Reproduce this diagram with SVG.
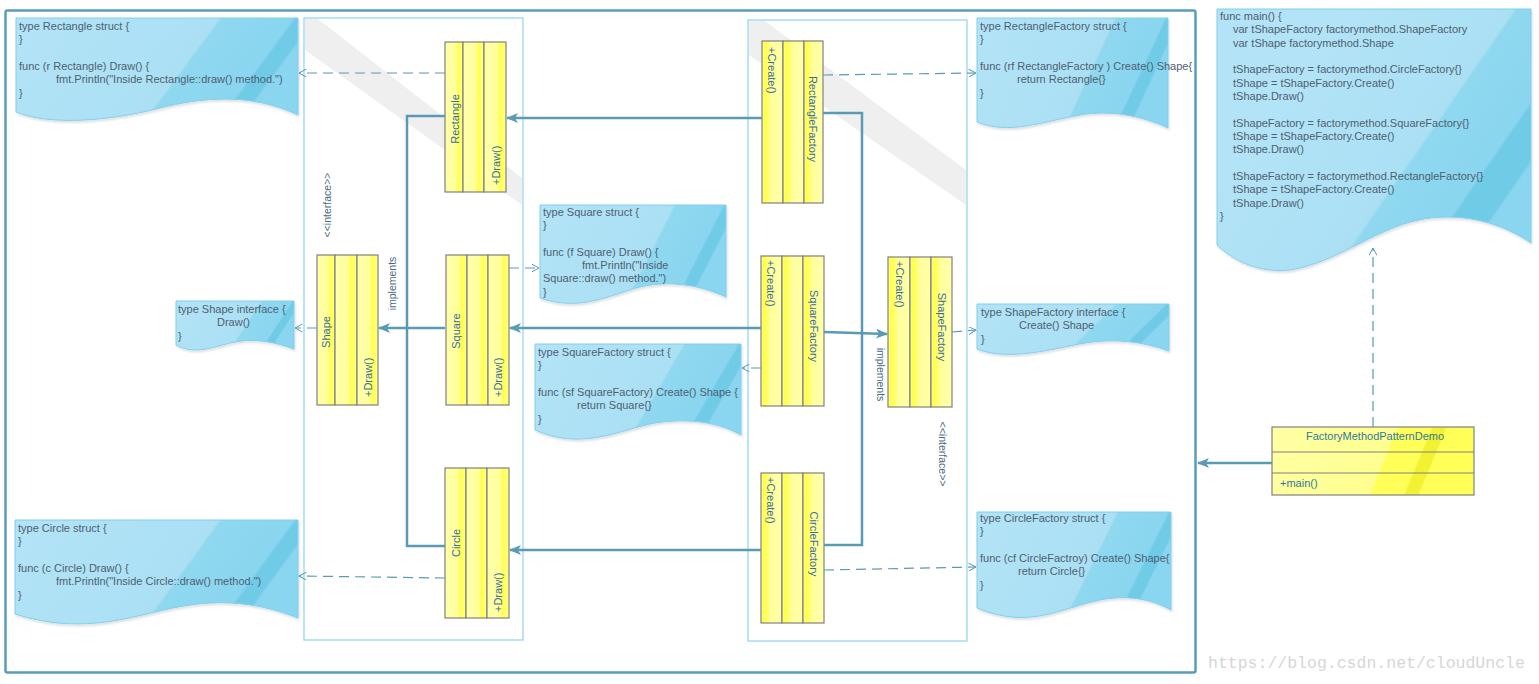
<svg xmlns="http://www.w3.org/2000/svg" width="1539" height="684" viewBox="0 0 1539 684">
<style>
.nt{font-family:"Liberation Sans",Arial,sans-serif;font-size:11px;fill:#4d6172}
.ct{font-family:"Liberation Sans",Arial,sans-serif;font-size:11px;fill:#3a6d96}
.lb{font-family:"Liberation Sans",Arial,sans-serif;font-size:10.5px;fill:#4a6a82}
.note{stroke:#7fd0ec;stroke-width:1;fill:url(#ng);filter:url(#sh)}
.col{stroke:#808080;stroke-width:1.2}
.cl{fill:url(#ycl)}
.cr{fill:url(#ycr)}
.panel{fill:#fff;stroke:#8fd3ea;stroke-width:1.2}
.band{fill:#efefef}
.as{fill:none;stroke:#5b9ab5;stroke-width:2.5}
.dp{fill:none;stroke:#5b9ab5;stroke-width:1.2;stroke-dasharray:10,6}
</style>
<defs>
<filter id="sh" x="-5%" y="-5%" width="110%" height="115%">
<feDropShadow dx="1" dy="2" stdDeviation="1" flood-color="#000" flood-opacity="0.12"/>
</filter>
<linearGradient id="ng" x1="0" y1="0" x2="1.2" y2="0" gradientTransform="skewX(-15)">
<stop offset="0" stop-color="#b3e3f6"/>
<stop offset="0.6" stop-color="#abe0f4"/>
<stop offset="0.61" stop-color="#8fd8f0"/>
<stop offset="0.82" stop-color="#8ad5ef"/>
<stop offset="0.83" stop-color="#70cbe7"/>
<stop offset="0.88" stop-color="#70cbe7"/>
<stop offset="0.89" stop-color="#8ad5ef"/>
<stop offset="1" stop-color="#8ad5ef"/>
</linearGradient>
<linearGradient id="mg" gradientUnits="userSpaceOnUse" x1="1300" y1="60" x2="1546.8" y2="230.7">
<stop offset="0" stop-color="#b3e3f6"/>
<stop offset="0.49" stop-color="#abe0f4"/>
<stop offset="0.5" stop-color="#8fd8f0"/>
<stop offset="0.71" stop-color="#8ad5ef"/>
<stop offset="0.72" stop-color="#70cbe7"/>
<stop offset="0.82" stop-color="#70cbe7"/>
<stop offset="0.83" stop-color="#8ad5ef"/>
<stop offset="1" stop-color="#8ad5ef"/>
</linearGradient>
<linearGradient id="ycl" x1="0" y1="0" x2="1" y2="0">
<stop offset="0" stop-color="#ffffaa"/>
<stop offset="0.6" stop-color="#ffff9c"/>
<stop offset="0.72" stop-color="#ffff50"/>
<stop offset="0.86" stop-color="#ffff66"/>
<stop offset="1" stop-color="#ffff96"/>
</linearGradient>
<linearGradient id="ycr" x1="0" y1="0" x2="1" y2="0">
<stop offset="0" stop-color="#ffff96"/>
<stop offset="0.12" stop-color="#ffff48"/>
<stop offset="0.3" stop-color="#ffff6a"/>
<stop offset="0.45" stop-color="#ffff9c"/>
<stop offset="1" stop-color="#ffffaa"/>
</linearGradient>
<linearGradient id="dg" x1="0" y1="0" x2="1" y2="0" gradientTransform="skewX(-8)">
<stop offset="0" stop-color="#ffffa4"/>
<stop offset="0.62" stop-color="#ffff90"/>
<stop offset="0.63" stop-color="#ffff58"/>
<stop offset="0.79" stop-color="#ffff58"/>
<stop offset="0.8" stop-color="#f2f233"/>
<stop offset="0.86" stop-color="#f2f233"/>
<stop offset="0.87" stop-color="#ffff58"/>
<stop offset="1" stop-color="#ffff58"/>
</linearGradient>
<marker id="fa" viewBox="0 0 12 10" refX="11" refY="5" markerWidth="12" markerHeight="10" markerUnits="userSpaceOnUse" orient="auto">
<path d="M12,5 L0,0 L3,5 L0,10 Z" fill="#5b9ab5"/>
</marker>
<marker id="oa" viewBox="0 0 8 8" refX="7.5" refY="4" markerWidth="8" markerHeight="8" markerUnits="userSpaceOnUse" orient="auto">
<path d="M0,0 L7.5,4 L0,8" fill="none" stroke="#5b9ab5" stroke-width="1"/>
</marker>
</defs>
<rect width="1539" height="684" fill="#fff"/>

<g id="frame">
<rect x="5.5" y="10.5" width="1190" height="662" rx="2" fill="none" stroke="#5a9db9" stroke-width="2.5"/>
</g>

<g id="panel-left">
<rect class="panel" x="304" y="18" width="219" height="622"/>
<polygon class="band" points="305,19 318,19 522,178 522,205 305,50"/>
</g>
<g id="panel-right">
<rect class="panel" x="748" y="20" width="219" height="621"/>
<polygon class="band" points="749,21 765,21 966,170 966,205 749,55"/>
</g>

<g id="note-rectangle">
<path class="note" d="M16,18 H298 V115 C250,92 200,98 160,108 C110,121 50,126 16,112 Z"/>
<text class="nt" x="19" y="30">type Rectangle struct {</text>
<text class="nt" x="19" y="43.3">}</text>
<text class="nt" x="19" y="70">func (r Rectangle) Draw() {</text>
<text class="nt" x="56" y="83.3">fmt.Println("Inside Rectangle::draw() method.")</text>
<text class="nt" x="19" y="96.6">}</text>
</g>

<g id="note-main">
<path d="M1217,9 H1531 V243 C1500,222 1465,214 1430,218 C1380,224 1340,262 1290,270 C1260,273 1235,262 1217,245 Z" fill="url(#mg)" stroke="#7fd0ec" stroke-width="1" filter="url(#sh)"/>
<text class="nt" x="1220" y="20">func main() {</text>
<text class="nt" x="1233" y="33.3">var tShapeFactory factorymethod.ShapeFactory</text>
<text class="nt" x="1233" y="46.6">var tShape factorymethod.Shape</text>
<text class="nt" x="1233" y="73.3">tShapeFactory = factorymethod.CircleFactory{}</text>
<text class="nt" x="1233" y="86.6">tShape = tShapeFactory.Create()</text>
<text class="nt" x="1233" y="100">tShape.Draw()</text>
<text class="nt" x="1233" y="126.6">tShapeFactory = factorymethod.SquareFactory{}</text>
<text class="nt" x="1233" y="140">tShape = tShapeFactory.Create()</text>
<text class="nt" x="1233" y="153.3">tShape.Draw()</text>
<text class="nt" x="1233" y="180">tShapeFactory = factorymethod.RectangleFactory{}</text>
<text class="nt" x="1233" y="193.3">tShape = tShapeFactory.Create()</text>
<text class="nt" x="1233" y="206.6">tShape.Draw()</text>
<text class="nt" x="1220" y="220">}</text>
</g>

<g id="note-shape">
<path class="note" d="M176,301 H294 V349 C275,342 255,338 235,342 C215,346 195,356 176,345 Z"/>
<text class="nt" x="178" y="313">type Shape interface {</text>
<text class="nt" x="217" y="326.3">Draw()</text>
<text class="nt" x="178" y="339.6">}</text>
</g>

<g id="note-square">
<path class="note" d="M540,205 H726 V297 C700,285 670,280 640,287 C610,295 580,312 540,298 Z"/>
<text class="nt" x="543" y="215.5">type Square struct {</text>
<text class="nt" x="543" y="228.8">}</text>
<text class="nt" x="543" y="255.5">func (f Square) Draw() {</text>
<text class="nt" x="582" y="268.8">fmt.Println("Inside</text>
<text class="nt" x="543" y="282">Square::draw() method.")</text>
<text class="nt" x="543" y="295.5">}</text>
</g>

<g id="note-squarefactory">
<path class="note" d="M535,344 H741 V435 C715,420 680,418 650,424 C615,432 580,450 535,430 Z"/>
<text class="nt" x="538" y="356">type SquareFactory struct {</text>
<text class="nt" x="538" y="369.3">}</text>
<text class="nt" x="538" y="396">func (sf SquareFactory) Create() Shape {</text>
<text class="nt" x="577" y="409.3">return Square{}</text>
<text class="nt" x="538" y="422.6">}</text>
</g>

<g id="note-rectanglefactory">
<path class="note" d="M977,18 H1168 V128 C1140,115 1110,110 1080,115 C1040,122 1010,135 977,122 Z"/>
<text class="nt" x="980" y="30">type RectangleFactory struct {</text>
<text class="nt" x="980" y="43.3">}</text>
<text class="nt" x="980" y="70">func (rf RectangleFactory ) Create() Shape{</text>
<text class="nt" x="1017" y="83.3">return Rectangle{}</text>
<text class="nt" x="980" y="96.6">}</text>
</g>

<g id="note-shapefactory">
<path class="note" d="M977,304 H1169 V351 C1145,342 1115,338 1085,343 C1055,348 1010,362 977,349 Z"/>
<text class="nt" x="981" y="316">type ShapeFactory interface {</text>
<text class="nt" x="1019" y="329.3">Create() Shape</text>
<text class="nt" x="981" y="342.6">}</text>
</g>

<g id="note-circle">
<path class="note" d="M15,520 H298 V618 C260,603 225,600 190,605 C140,612 90,638 15,614 Z"/>
<text class="nt" x="18" y="532">type Circle struct {</text>
<text class="nt" x="18" y="545.3">}</text>
<text class="nt" x="18" y="572">func (c Circle) Draw() {</text>
<text class="nt" x="56" y="585.3">fmt.Println("Inside Circle::draw() method.")</text>
<text class="nt" x="18" y="598.6">}</text>
</g>

<g id="note-circlefactory">
<path class="note" d="M977,512 H1171 V610 C1150,598 1125,595 1100,600 C1060,608 1030,630 977,608 Z"/>
<text class="nt" x="980" y="522">type CircleFactory struct {</text>
<text class="nt" x="980" y="535.3">}</text>
<text class="nt" x="980" y="562">func (cf CircleFactroy) Create() Shape{</text>
<text class="nt" x="1018" y="575.3">return Circle{}</text>
<text class="nt" x="980" y="588.6">}</text>
</g>

<g id="class-rectangle">
<rect class="col cl" x="445" y="42" width="18" height="150"/>
<rect class="col cl" x="463" y="42" width="21" height="150"/>
<rect class="col cl" x="484" y="42" width="22" height="150"/>
<text class="ct" transform="translate(459,119) rotate(-90)" text-anchor="middle">Rectangle</text>
<text class="ct" transform="translate(500,185) rotate(-90)">+Draw()</text>
</g>

<g id="class-shape">
<rect class="col cl" x="317" y="255" width="18" height="150"/>
<rect class="col cl" x="335" y="255" width="22" height="150"/>
<rect class="col cl" x="357" y="255" width="21" height="150"/>
<text class="ct" transform="translate(330,332) rotate(-90)" text-anchor="middle">Shape</text>
<text class="ct" transform="translate(372,397) rotate(-90)">+Draw()</text>
</g>

<g id="class-square">
<rect class="col cl" x="446" y="255" width="21" height="150"/>
<rect class="col cl" x="467" y="255" width="21" height="150"/>
<rect class="col cl" x="488" y="255" width="21" height="150"/>
<text class="ct" transform="translate(460,331) rotate(-90)" text-anchor="middle">Square</text>
<text class="ct" transform="translate(502,397) rotate(-90)">+Draw()</text>
</g>

<g id="class-circle">
<rect class="col cl" x="445" y="468" width="21" height="150"/>
<rect class="col cl" x="466" y="468" width="21" height="150"/>
<rect class="col cl" x="487" y="468" width="22" height="150"/>
<text class="ct" transform="translate(460,543) rotate(-90)" text-anchor="middle">Circle</text>
<text class="ct" transform="translate(502,612) rotate(-90)">+Draw()</text>
</g>

<g id="class-rectanglefactory">
<rect class="col cr" x="762" y="41" width="21" height="162"/>
<rect class="col cr" x="783" y="41" width="21" height="162"/>
<rect class="col cr" x="804" y="41" width="19" height="162"/>
<text class="ct" transform="translate(768,47) rotate(90)">+Create()</text>
<text class="ct" transform="translate(809,119) rotate(90)" text-anchor="middle">RectangleFactory</text>
</g>

<g id="class-squarefactory">
<rect class="col cr" x="761" y="256" width="21" height="150"/>
<rect class="col cr" x="782" y="256" width="21" height="150"/>
<rect class="col cr" x="803" y="256" width="21" height="150"/>
<text class="ct" transform="translate(767,260) rotate(90)">+Create()</text>
<text class="ct" transform="translate(810,326) rotate(90)" text-anchor="middle">SquareFactory</text>
</g>

<g id="class-circlefactory">
<rect class="col cr" x="761" y="473" width="21" height="150"/>
<rect class="col cr" x="782" y="473" width="21" height="150"/>
<rect class="col cr" x="803" y="473" width="21" height="150"/>
<text class="ct" transform="translate(767,477) rotate(90)">+Create()</text>
<text class="ct" transform="translate(810,544) rotate(90)" text-anchor="middle">CircleFactory</text>
</g>

<g id="class-shapefactory">
<rect class="col cr" x="888" y="257" width="22" height="150"/>
<rect class="col cr" x="910" y="257" width="21" height="150"/>
<rect class="col cr" x="931" y="257" width="21" height="150"/>
<text class="ct" transform="translate(896,261) rotate(90)">+Create()</text>
<text class="ct" transform="translate(938,327) rotate(90)" text-anchor="middle">ShapeFactory</text>
</g>

<g id="class-demo">
<rect x="1272" y="427" width="202" height="68" fill="url(#dg)" stroke="#808080" stroke-width="1.2"/>
<line x1="1272" y1="452" x2="1474" y2="452" stroke="#808080" stroke-width="1.2"/>
<line x1="1272" y1="473" x2="1474" y2="473" stroke="#808080" stroke-width="1.2"/>
<text x="1375" y="440" text-anchor="middle" style="font-family:'Liberation Sans',Arial,sans-serif;font-size:11px;fill:#2f7a9c">FactoryMethodPatternDemo</text>
<text x="1280" y="487" style="font-family:'Liberation Sans',Arial,sans-serif;font-size:11px;fill:#2f7a9c">+main()</text>
</g>

<g id="labels">
<text class="lb" transform="translate(396,283.5) rotate(-90)" text-anchor="middle">implements</text>
<text class="lb" transform="translate(877,374.5) rotate(90)" text-anchor="middle">implements</text>
<text class="lb" transform="translate(331,205) rotate(-90)" text-anchor="middle">&lt;&lt;interface&gt;&gt;</text>
<text class="lb" transform="translate(939,454) rotate(90)" text-anchor="middle">&lt;&lt;interface&gt;&gt;</text>
</g>

<g id="connectors">
<path class="as" d="M762,118 H507" marker-end="url(#fa)"/>
<path class="as" d="M445,116 H407 V546 H445"/>
<path class="as" d="M445,328 H379" marker-end="url(#fa)"/>
<path class="as" d="M761,328 H510" marker-end="url(#fa)"/>
<path class="as" d="M761,550 H510" marker-end="url(#fa)"/>
<path class="as" d="M823,113 H862 V545 H824"/>
<path class="as" d="M824,332 L887,334" marker-end="url(#fa)"/>
<path class="as" d="M1272,463 H1198" marker-end="url(#fa)"/>
<path class="dp" d="M445,73 H299" marker-end="url(#oa)"/>
<path class="dp" d="M823,75 L976,73" marker-end="url(#oa)"/>
<path class="dp" d="M509,268 H539" marker-end="url(#oa)"/>
<path class="dp" d="M317,328 H295" marker-end="url(#oa)"/>
<path class="dp" d="M761,368 H742" marker-end="url(#oa)"/>
<path class="dp" d="M952,332 L976,330" marker-end="url(#oa)"/>
<path class="dp" d="M445,578 L299,576" marker-end="url(#oa)"/>
<path class="dp" d="M824,570 L976,567" marker-end="url(#oa)"/>
<path class="dp" d="M1373,427 V248" marker-end="url(#oa)"/>
</g>

<text x="1208" y="668" style="font-family:'Liberation Mono',monospace;font-size:16.5px;fill:#d6d6d6">https://blog.csdn.net/cloudUncle</text>
</svg>
